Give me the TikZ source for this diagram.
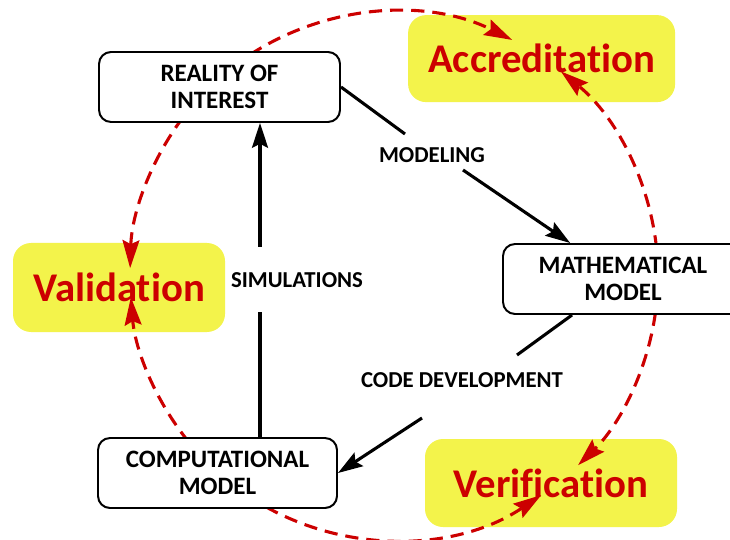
\documentclass[tikz,border=0pt]{standalone}
\usepackage{fontspec}
\setmainfont{Carlito}[Ligatures=NoCommon]
\usetikzlibrary{arrows.meta}
\definecolor{vvred}{RGB}{204,0,0}
\definecolor{vvyellow}{RGB}{243,243,75}
\begin{document}
\begin{tikzpicture}[>={Stealth[length=0.62cm,width=0.4cm,inset=0.1cm]},
  stage/.style={draw,fill=white,line width=1.4pt,rounded corners=0.3cm,align=center,
    minimum height=1.75cm,font=\bfseries\fontsize{17.8}{19.5}\selectfont},
  goal/.style={fill=vvyellow,rounded corners=0.45cm,text=vvred,
    font=\bfseries\fontsize{29}{32}\selectfont},
  flow/.style={line width=2.2pt},
  lbl/.style={font=\bfseries\fontsize{16.2}{18}\selectfont},
  cyc/.style={vvred,line width=2.2pt,dash pattern=on 0.33cm off 0.2cm,
    -{Stealth[length=0.7cm,width=0.42cm,inset=0.1cm]}}]
\clip (0,0) rectangle (18.25,13.475);
\coordinate (c) at (9.85,6.575);
\def\R{6.6}
% yellow goals
\node[goal,minimum width=6.675cm,minimum height=2.175cm] (accr) at (13.54,12.01) {Accreditation};
\node[goal,minimum width=5.3cm,minimum height=2.225cm] (valid) at (2.975,6.2875) {Validation};
\node[goal,minimum width=6.3cm,minimum height=2.2cm] (verif) at (13.775,1.4) {Verification};
% dashed cycle
\foreach \a/\b in {123/63.4,6/50.8,143/178.3,219/184.6,-8/-45.8,241/303.9}
  \draw[cyc] ([shift={(\a:\R)}]c) arc[start angle=\a,end angle=\b,radius=\R];
% model boxes
\node[stage,minimum width=6.025cm] (reality) at (5.4875,11.3) {REALITY OF\\INTEREST};
\node[stage,minimum width=6cm] (math) at (15.575,6.5) {MATHEMATICAL\\MODEL};
\node[stage,minimum width=5.975cm] (comp) at (5.4375,1.65) {COMPUTATIONAL\\MODEL};
% labels
\node[lbl] (modl) at (10.8,9.6) {MODELING};
\node[lbl] (siml) at (7.425,6.475) {SIMULATIONS};
\node[lbl] (codel) at (11.55,3.975) {CODE DEVELOPMENT};
\coordinate (m1) at (10.125,10.125);
\coordinate (m2) at (11.575,9.225);
\coordinate (s1) at (6.5,5.675);
\coordinate (s2) at (6.5,7.3);
\coordinate (d1) at (12.925,4.6);
\coordinate (d2) at (10.55,3.025);
% arrows
\draw[flow] (reality.east) -- (m1);
\draw[flow,->] (m2) -- (math);
\draw[flow] (comp.north -| s1) -- (s1);
\draw[flow,->] (s2) -- (s2 |- reality.south);
\draw[flow] ([xshift=1.75cm]math.south west) -- (d1);
\draw[flow,->] (d2) -- (comp.east);
\end{tikzpicture}
\end{document}
